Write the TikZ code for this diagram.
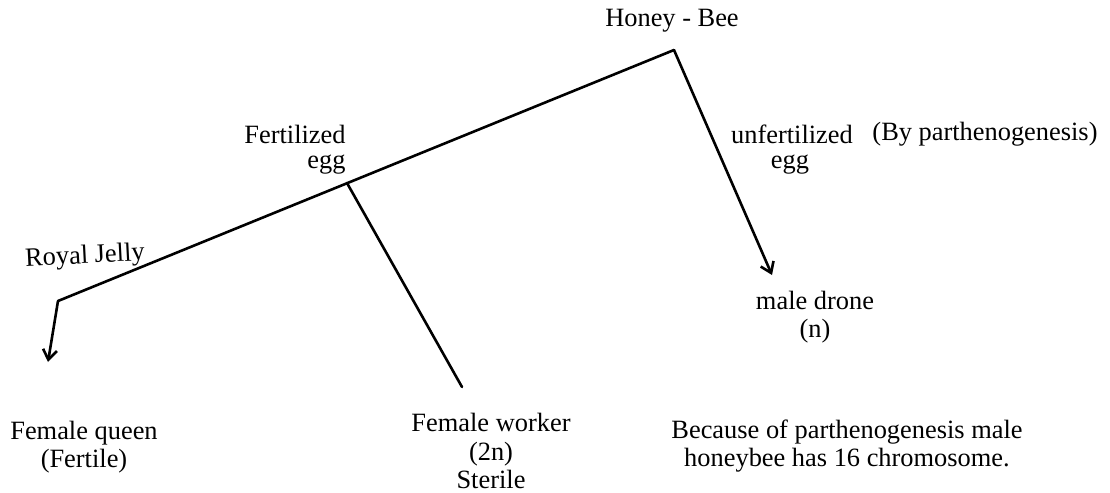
\documentclass[tikz,border=0pt]{standalone}
\usepackage{fontspec}
\setmainfont{Liberation Serif}
\usetikzlibrary{arrows.meta}
\begin{document}
\begin{tikzpicture}[x=0.5pt,y=-0.5pt,
  lbl/.style={inner sep=0pt,font=\fontsize{13.2}{14.2}\selectfont,align=center},
  branch/.style={line width=1.3pt,line cap=round,line join=miter},
  arr/.style={branch,-{Straight Barb[length=5pt,width=7pt,line width=1.3pt]}}]
\useasboundingbox (0,0) rectangle (1110,493);
% points
\coordinate (apex) at (674,50);
\coordinate (rj) at (58,301);
\coordinate (fork) at (347,183);
\coordinate (qtip) at (48,362);
\coordinate (wend) at (462,387);
\coordinate (dtip) at (772,275);
% labels
\node[lbl] (hb) at (672,21) {Honey - Bee};
\node[lbl,anchor=east] (fert) at (346,134) {Fertilized};
\node[lbl,anchor=east] (fertegg) at (346,165) {egg};
\node[lbl] (unf) at (792,134) {unfertilized};
\node[lbl] (unfegg) at (790,165) {egg};
\node[lbl] (parth) at (985,134) {(By parthenogenesis)};
\node[lbl,rotate=3] (royal) at (85,257) {Royal Jelly};
\node[lbl] (drone) at (815,317) {male drone\\(n)};
\node[lbl] (queen) at (84,447) {Female queen\\(Fertile)};
\node[lbl] (worker) at (491,451) {Female worker\\(2n)\\Sterile};
\node[lbl] (note) at (847,446) {Because of parthenogenesis male\\honeybee has 16 chromosome.};
% connectors
\draw[branch] (apex) -- (rj);
\draw[arr] (rj) -- (qtip);
\draw[branch] (fork) -- (wend);
\draw[arr] (apex) -- (dtip);
\end{tikzpicture}
\end{document}
